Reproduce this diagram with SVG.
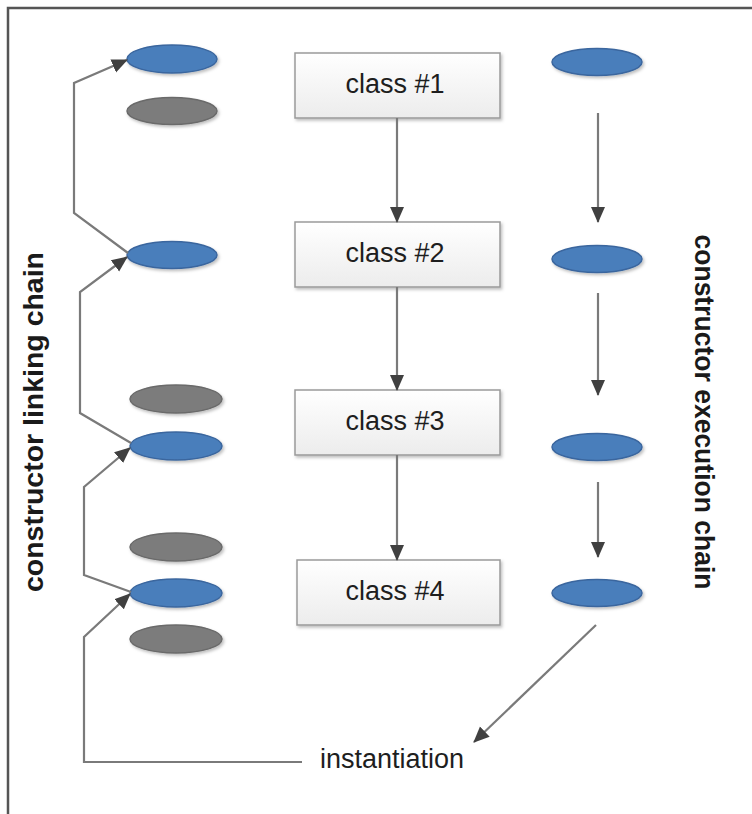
<svg xmlns="http://www.w3.org/2000/svg" width="752" height="814" viewBox="0 0 752 814">
  <style>
    .frame { fill: none; stroke: #555; stroke-width: 2.5; }
    .box { fill: url(#boxFill); stroke: #9a9a9a; stroke-width: 1.5; filter: url(#shadow); }
    .blue { fill: #4a7ebb; stroke: #3a669e; stroke-width: 1.5; filter: url(#shadow); }
    .grey { fill: #7c7c7c; stroke: #6a6a6a; stroke-width: 1.5; filter: url(#shadow); }
    .label { font-family: "Liberation Sans", Arial, sans-serif; font-size: 27px; fill: #1e1e1e; text-anchor: middle; }
    .side { font-family: "Liberation Sans", Arial, sans-serif; font-size: 27px; font-weight: bold; fill: #1a1a1a; text-anchor: middle; }
    .arrow { fill: none; stroke: #7a7a7a; stroke-width: 2.2; marker-end: url(#head); }
  </style>
  <defs>
    <linearGradient id="boxFill" x1="0" y1="0" x2="0" y2="1">
      <stop offset="0" stop-color="#ffffff"/>
      <stop offset="1" stop-color="#ececec"/>
    </linearGradient>
    <filter id="shadow" x="-20%" y="-30%" width="140%" height="170%">
      <feDropShadow dx="1.5" dy="2" stdDeviation="1.5" flood-color="#000" flood-opacity="0.25"/>
    </filter>
    <marker id="head" viewBox="0 0 16 16" refX="15" refY="8" markerWidth="16" markerHeight="16" markerUnits="userSpaceOnUse" orient="auto">
      <path d="M0,1 L16,8 L0,15 Z" fill="#404040"/>
    </marker>
  </defs>

  <!-- outer frame (top and left edges) -->
  <path class="frame" d="M8,814 L8,8 L752,8"/>

  <!-- side captions -->
  <text class="side" transform="translate(43,422) rotate(-90)" textLength="340" lengthAdjust="spacingAndGlyphs">constructor linking chain</text>
  <text class="side" transform="translate(695,412) rotate(90)" textLength="355" lengthAdjust="spacingAndGlyphs">constructor execution chain</text>

  <!-- class boxes -->
  <g id="class1">
    <rect class="box" x="295" y="53" width="205" height="65"/>
    <text class="label" x="395" y="93">class #1</text>
  </g>
  <g id="class2">
    <rect class="box" x="295" y="222" width="205" height="65"/>
    <text class="label" x="395" y="262">class #2</text>
  </g>
  <g id="class3">
    <rect class="box" x="295" y="390" width="205" height="65"/>
    <text class="label" x="395" y="430">class #3</text>
  </g>
  <g id="class4">
    <rect class="box" x="297" y="560" width="203" height="65"/>
    <text class="label" x="395" y="600">class #4</text>
  </g>

  <!-- left column: linking ellipses -->
  <g id="link1"><ellipse class="blue" cx="172" cy="59" rx="45" ry="14"/></g>
  <g id="link1b"><ellipse class="grey" cx="172" cy="111" rx="45" ry="13.5"/></g>
  <g id="link2"><ellipse class="blue" cx="172" cy="255" rx="45" ry="13.5"/></g>
  <g id="link3a"><ellipse class="grey" cx="176" cy="399" rx="46" ry="14"/></g>
  <g id="link3"><ellipse class="blue" cx="176" cy="446" rx="46" ry="14"/></g>
  <g id="link4a"><ellipse class="grey" cx="176" cy="547" rx="46" ry="14"/></g>
  <g id="link4"><ellipse class="blue" cx="176" cy="593" rx="46" ry="14"/></g>
  <g id="link4b"><ellipse class="grey" cx="176" cy="639" rx="46" ry="14"/></g>

  <!-- right column: execution ellipses -->
  <g id="exec1"><ellipse class="blue" cx="597" cy="62" rx="45" ry="13.5"/></g>
  <g id="exec2"><ellipse class="blue" cx="597" cy="259" rx="45" ry="13.5"/></g>
  <g id="exec3"><ellipse class="blue" cx="597" cy="447" rx="45" ry="13.5"/></g>
  <g id="exec4"><ellipse class="blue" cx="597" cy="593" rx="45" ry="13.5"/></g>

  <!-- instantiation label -->
  <g id="instantiation">
    <text class="label" x="392" y="768">instantiation</text>
  </g>

  <!-- connectors -->
  <g id="connectors">
    <!-- class hierarchy -->
    <path class="arrow" d="M397,118 L397,222"/>
    <path class="arrow" d="M397,287 L397,390"/>
    <path class="arrow" d="M397,455 L397,560"/>

    <!-- execution chain -->
    <path class="arrow" d="M598,113 L598,222"/>
    <path class="arrow" d="M598,293 L598,395"/>
    <path class="arrow" d="M598,482 L598,557"/>
    <path class="arrow" d="M596,625 L474,742"/>

    <!-- linking chain -->
    <path class="arrow" d="M128,253 L74,213 L74,83 L127,60"/>
    <path class="arrow" d="M131,443 L80,413 L80,292 L127,257"/>
    <path class="arrow" d="M131,592 L84,575 L84,487 L130,448"/>
    <path class="arrow" d="M302,762 L84,762 L84,637 L130,594"/>
  </g>
</svg>
